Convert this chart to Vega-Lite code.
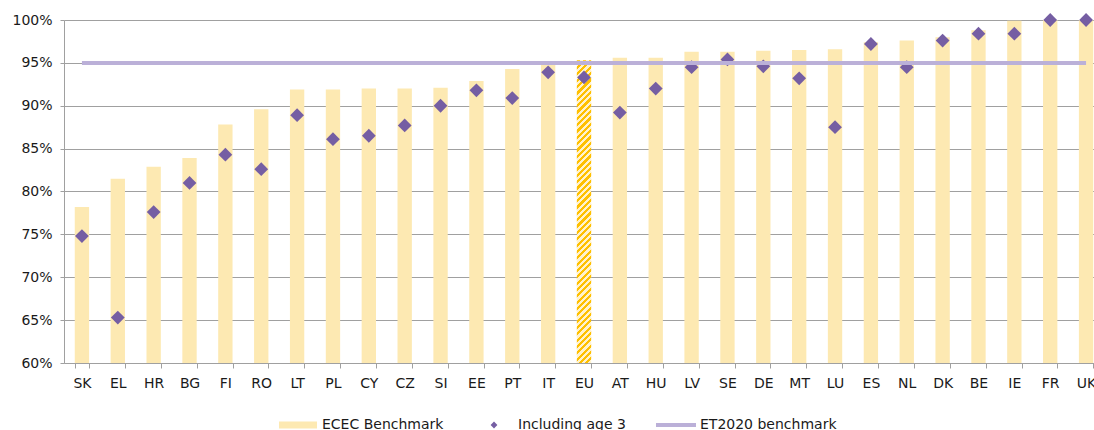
{
  "$schema": "https://vega.github.io/schema/vega-lite/v6.json",
  "width": 1030,
  "height": 343,
  "autosize": {"type": "none"},
  "padding": {"left": 64, "top": 20, "right": 0, "bottom": 67},
  "background": "white",
  "config": {
    "view": {"stroke": null},
    "font": "DejaVu Sans",
    "axis": {
      "labelFont": "DejaVu Sans",
      "labelFontSize": 14,
      "labelColor": "#1a1a1a",
      "domainColor": "#a0a0a0",
      "tickColor": "#a0a0a0",
      "gridColor": "#a0a0a0",
      "title": null
    }
  },
  "data": {
    "values": [
      {"country": "SK", "ecec": 0.782, "age3": 0.748},
      {"country": "EL", "ecec": 0.815, "age3": 0.653},
      {"country": "HR", "ecec": 0.829, "age3": 0.776},
      {"country": "BG", "ecec": 0.839, "age3": 0.810},
      {"country": "FI", "ecec": 0.878, "age3": 0.843},
      {"country": "RO", "ecec": 0.896, "age3": 0.826},
      {"country": "LT", "ecec": 0.919, "age3": 0.889},
      {"country": "PL", "ecec": 0.919, "age3": 0.861},
      {"country": "CY", "ecec": 0.920, "age3": 0.865},
      {"country": "CZ", "ecec": 0.920, "age3": 0.877},
      {"country": "SI", "ecec": 0.921, "age3": 0.900},
      {"country": "EE", "ecec": 0.929, "age3": 0.918},
      {"country": "PT", "ecec": 0.943, "age3": 0.909},
      {"country": "IT", "ecec": 0.949, "age3": 0.939},
      {"country": "EU", "ecec": 0.953, "age3": 0.933},
      {"country": "AT", "ecec": 0.956, "age3": 0.892},
      {"country": "HU", "ecec": 0.956, "age3": 0.920},
      {"country": "LV", "ecec": 0.963, "age3": 0.945},
      {"country": "SE", "ecec": 0.963, "age3": 0.954},
      {"country": "DE", "ecec": 0.964, "age3": 0.946},
      {"country": "MT", "ecec": 0.965, "age3": 0.932},
      {"country": "LU", "ecec": 0.966, "age3": 0.875},
      {"country": "ES", "ecec": 0.974, "age3": 0.972},
      {"country": "NL", "ecec": 0.976, "age3": 0.945},
      {"country": "DK", "ecec": 0.980, "age3": 0.976},
      {"country": "BE", "ecec": 0.988, "age3": 0.984},
      {"country": "IE", "ecec": 0.999, "age3": 0.984},
      {"country": "FR", "ecec": 1.000, "age3": 1.000},
      {"country": "UK", "ecec": 1.000, "age3": 1.000}
    ]
  },
  "layer": [
    {
      "transform": [{"filter": "datum.country !== 'EU'"}],
      "mark": {"type": "bar", "fill": "#fde9b2"},
      "encoding": {
        "x": {
          "field": "country", "type": "nominal",
          "scale": {
            "domain": ["SK","EL","HR","BG","FI","RO","LT","PL","CY","CZ","SI","EE","PT","IT","EU","AT","HU","LV","SE","DE","MT","LU","ES","NL","DK","BE","IE","FR","UK"],
            "range": [0, 1040], "paddingInner": 0.6, "paddingOuter": 0.3
          },
          "axis": {"labelAngle": 0, "grid": false, "tickBand": "extent", "tickSize": 5, "labelPadding": 8, "domain": true, "ticks": true}
        },
        "y": {
          "field": "ecec", "type": "quantitative",
          "scale": {"domain": [0.6, 1.0], "nice": false, "zero": false},
          "axis": {"values": [0.6,0.65,0.7,0.75,0.8,0.85,0.9,0.95,1.0], "format": ".0%", "grid": true, "tickSize": 4, "labelPadding": 8, "domain": true}
        },
        "y2": {"datum": 0.6},
        "color": {
          "datum": "ECEC Benchmark",
          "type": "nominal",
          "scale": {
            "domain": ["ECEC Benchmark", "Including age 3", "ET2020 benchmark"],
            "range": ["#fde9b2", "#755ea3", "#bbb0d8"]
          },
          "legend": {
            "title": null,
            "orient": "none",
            "legendX": 214,
            "legendY": 385,
            "direction": "horizontal",
            "padding": 0,
            "symbolSize": 1600,
            "labelFont": "DejaVu Sans",
            "labelFontSize": 14,
            "labelColor": "#1a1a1a",
            "labelOffset": 4,
            "columnPadding": 30,
            "labelLimit": 300,
            "encode": {
              "symbols": {
                "update": {
                  "shape": {"signal": "datum.value === 'ECEC Benchmark' ? 'M-0.95,-0.18H0.95V0.18H-0.95Z' : (datum.value === 'Including age 3' ? 'M-0.17,0L0,-0.17L0.17,0L0,0.17Z' : 'M-1,-0.1H1V0.1H-1Z')"},
                  "fill": {"signal": "scale('color', datum.value)"},
                  "stroke": {"value": "transparent"},
                  "strokeWidth": {"value": 0},
                  "opacity": {"value": 1},
                  "fillOpacity": {"value": 1}
                }
              }
            }
          }
        }
      }
    },
    {
      "transform": [{"filter": "datum.country === 'EU'"}],
      "mark": {
        "type": "bar",
        "fill": {
          "gradient": "linear",
          "x1": 0, "y1": 0, "x2": 0.0495, "y2": 1.045,
          "stops": [
            {"offset":0,"color":"#ffc000"},{"offset":0.01,"color":"#ffc000"},{"offset":0.01,"color":"#fff2cc"},{"offset":0.02,"color":"#fff2cc"},
            {"offset":0.02,"color":"#ffc000"},{"offset":0.03,"color":"#ffc000"},{"offset":0.03,"color":"#fff2cc"},{"offset":0.04,"color":"#fff2cc"},
            {"offset":0.04,"color":"#ffc000"},{"offset":0.05,"color":"#ffc000"},{"offset":0.05,"color":"#fff2cc"},{"offset":0.06,"color":"#fff2cc"},
            {"offset":0.06,"color":"#ffc000"},{"offset":0.07,"color":"#ffc000"},{"offset":0.07,"color":"#fff2cc"},{"offset":0.08,"color":"#fff2cc"},
            {"offset":0.08,"color":"#ffc000"},{"offset":0.09,"color":"#ffc000"},{"offset":0.09,"color":"#fff2cc"},{"offset":0.10,"color":"#fff2cc"},
            {"offset":0.10,"color":"#ffc000"},{"offset":0.11,"color":"#ffc000"},{"offset":0.11,"color":"#fff2cc"},{"offset":0.12,"color":"#fff2cc"},
            {"offset":0.12,"color":"#ffc000"},{"offset":0.13,"color":"#ffc000"},{"offset":0.13,"color":"#fff2cc"},{"offset":0.14,"color":"#fff2cc"},
            {"offset":0.14,"color":"#ffc000"},{"offset":0.15,"color":"#ffc000"},{"offset":0.15,"color":"#fff2cc"},{"offset":0.16,"color":"#fff2cc"},
            {"offset":0.16,"color":"#ffc000"},{"offset":0.17,"color":"#ffc000"},{"offset":0.17,"color":"#fff2cc"},{"offset":0.18,"color":"#fff2cc"},
            {"offset":0.18,"color":"#ffc000"},{"offset":0.19,"color":"#ffc000"},{"offset":0.19,"color":"#fff2cc"},{"offset":0.20,"color":"#fff2cc"},
            {"offset":0.20,"color":"#ffc000"},{"offset":0.21,"color":"#ffc000"},{"offset":0.21,"color":"#fff2cc"},{"offset":0.22,"color":"#fff2cc"},
            {"offset":0.22,"color":"#ffc000"},{"offset":0.23,"color":"#ffc000"},{"offset":0.23,"color":"#fff2cc"},{"offset":0.24,"color":"#fff2cc"},
            {"offset":0.24,"color":"#ffc000"},{"offset":0.25,"color":"#ffc000"},{"offset":0.25,"color":"#fff2cc"},{"offset":0.26,"color":"#fff2cc"},
            {"offset":0.26,"color":"#ffc000"},{"offset":0.27,"color":"#ffc000"},{"offset":0.27,"color":"#fff2cc"},{"offset":0.28,"color":"#fff2cc"},
            {"offset":0.28,"color":"#ffc000"},{"offset":0.29,"color":"#ffc000"},{"offset":0.29,"color":"#fff2cc"},{"offset":0.30,"color":"#fff2cc"},
            {"offset":0.30,"color":"#ffc000"},{"offset":0.31,"color":"#ffc000"},{"offset":0.31,"color":"#fff2cc"},{"offset":0.32,"color":"#fff2cc"},
            {"offset":0.32,"color":"#ffc000"},{"offset":0.33,"color":"#ffc000"},{"offset":0.33,"color":"#fff2cc"},{"offset":0.34,"color":"#fff2cc"},
            {"offset":0.34,"color":"#ffc000"},{"offset":0.35,"color":"#ffc000"},{"offset":0.35,"color":"#fff2cc"},{"offset":0.36,"color":"#fff2cc"},
            {"offset":0.36,"color":"#ffc000"},{"offset":0.37,"color":"#ffc000"},{"offset":0.37,"color":"#fff2cc"},{"offset":0.38,"color":"#fff2cc"},
            {"offset":0.38,"color":"#ffc000"},{"offset":0.39,"color":"#ffc000"},{"offset":0.39,"color":"#fff2cc"},{"offset":0.40,"color":"#fff2cc"},
            {"offset":0.40,"color":"#ffc000"},{"offset":0.41,"color":"#ffc000"},{"offset":0.41,"color":"#fff2cc"},{"offset":0.42,"color":"#fff2cc"},
            {"offset":0.42,"color":"#ffc000"},{"offset":0.43,"color":"#ffc000"},{"offset":0.43,"color":"#fff2cc"},{"offset":0.44,"color":"#fff2cc"},
            {"offset":0.44,"color":"#ffc000"},{"offset":0.45,"color":"#ffc000"},{"offset":0.45,"color":"#fff2cc"},{"offset":0.46,"color":"#fff2cc"},
            {"offset":0.46,"color":"#ffc000"},{"offset":0.47,"color":"#ffc000"},{"offset":0.47,"color":"#fff2cc"},{"offset":0.48,"color":"#fff2cc"},
            {"offset":0.48,"color":"#ffc000"},{"offset":0.49,"color":"#ffc000"},{"offset":0.49,"color":"#fff2cc"},{"offset":0.50,"color":"#fff2cc"},
            {"offset":0.50,"color":"#ffc000"},{"offset":0.51,"color":"#ffc000"},{"offset":0.51,"color":"#fff2cc"},{"offset":0.52,"color":"#fff2cc"},
            {"offset":0.52,"color":"#ffc000"},{"offset":0.53,"color":"#ffc000"},{"offset":0.53,"color":"#fff2cc"},{"offset":0.54,"color":"#fff2cc"},
            {"offset":0.54,"color":"#ffc000"},{"offset":0.55,"color":"#ffc000"},{"offset":0.55,"color":"#fff2cc"},{"offset":0.56,"color":"#fff2cc"},
            {"offset":0.56,"color":"#ffc000"},{"offset":0.57,"color":"#ffc000"},{"offset":0.57,"color":"#fff2cc"},{"offset":0.58,"color":"#fff2cc"},
            {"offset":0.58,"color":"#ffc000"},{"offset":0.59,"color":"#ffc000"},{"offset":0.59,"color":"#fff2cc"},{"offset":0.60,"color":"#fff2cc"},
            {"offset":0.60,"color":"#ffc000"},{"offset":0.61,"color":"#ffc000"},{"offset":0.61,"color":"#fff2cc"},{"offset":0.62,"color":"#fff2cc"},
            {"offset":0.62,"color":"#ffc000"},{"offset":0.63,"color":"#ffc000"},{"offset":0.63,"color":"#fff2cc"},{"offset":0.64,"color":"#fff2cc"},
            {"offset":0.64,"color":"#ffc000"},{"offset":0.65,"color":"#ffc000"},{"offset":0.65,"color":"#fff2cc"},{"offset":0.66,"color":"#fff2cc"},
            {"offset":0.66,"color":"#ffc000"},{"offset":0.67,"color":"#ffc000"},{"offset":0.67,"color":"#fff2cc"},{"offset":0.68,"color":"#fff2cc"},
            {"offset":0.68,"color":"#ffc000"},{"offset":0.69,"color":"#ffc000"},{"offset":0.69,"color":"#fff2cc"},{"offset":0.70,"color":"#fff2cc"},
            {"offset":0.70,"color":"#ffc000"},{"offset":0.71,"color":"#ffc000"},{"offset":0.71,"color":"#fff2cc"},{"offset":0.72,"color":"#fff2cc"},
            {"offset":0.72,"color":"#ffc000"},{"offset":0.73,"color":"#ffc000"},{"offset":0.73,"color":"#fff2cc"},{"offset":0.74,"color":"#fff2cc"},
            {"offset":0.74,"color":"#ffc000"},{"offset":0.75,"color":"#ffc000"},{"offset":0.75,"color":"#fff2cc"},{"offset":0.76,"color":"#fff2cc"},
            {"offset":0.76,"color":"#ffc000"},{"offset":0.77,"color":"#ffc000"},{"offset":0.77,"color":"#fff2cc"},{"offset":0.78,"color":"#fff2cc"},
            {"offset":0.78,"color":"#ffc000"},{"offset":0.79,"color":"#ffc000"},{"offset":0.79,"color":"#fff2cc"},{"offset":0.80,"color":"#fff2cc"},
            {"offset":0.80,"color":"#ffc000"},{"offset":0.81,"color":"#ffc000"},{"offset":0.81,"color":"#fff2cc"},{"offset":0.82,"color":"#fff2cc"},
            {"offset":0.82,"color":"#ffc000"},{"offset":0.83,"color":"#ffc000"},{"offset":0.83,"color":"#fff2cc"},{"offset":0.84,"color":"#fff2cc"},
            {"offset":0.84,"color":"#ffc000"},{"offset":0.85,"color":"#ffc000"},{"offset":0.85,"color":"#fff2cc"},{"offset":0.86,"color":"#fff2cc"},
            {"offset":0.86,"color":"#ffc000"},{"offset":0.87,"color":"#ffc000"},{"offset":0.87,"color":"#fff2cc"},{"offset":0.88,"color":"#fff2cc"},
            {"offset":0.88,"color":"#ffc000"},{"offset":0.89,"color":"#ffc000"},{"offset":0.89,"color":"#fff2cc"},{"offset":0.90,"color":"#fff2cc"},
            {"offset":0.90,"color":"#ffc000"},{"offset":0.91,"color":"#ffc000"},{"offset":0.91,"color":"#fff2cc"},{"offset":0.92,"color":"#fff2cc"},
            {"offset":0.92,"color":"#ffc000"},{"offset":0.93,"color":"#ffc000"},{"offset":0.93,"color":"#fff2cc"},{"offset":0.94,"color":"#fff2cc"},
            {"offset":0.94,"color":"#ffc000"},{"offset":0.95,"color":"#ffc000"},{"offset":0.95,"color":"#fff2cc"},{"offset":0.96,"color":"#fff2cc"},
            {"offset":0.96,"color":"#ffc000"},{"offset":0.97,"color":"#ffc000"},{"offset":0.97,"color":"#fff2cc"},{"offset":0.98,"color":"#fff2cc"},
            {"offset":0.98,"color":"#ffc000"},{"offset":0.99,"color":"#ffc000"},{"offset":0.99,"color":"#fff2cc"},{"offset":1,"color":"#fff2cc"}
          ]
        }
      },
      "encoding": {
        "x": {"field": "country", "type": "nominal"},
        "y": {"field": "ecec", "type": "quantitative"},
        "y2": {"datum": 0.6}
      }
    },
    {
      "mark": {"type": "point", "shape": "diamond", "filled": true, "size": 190, "opacity": 1},
      "encoding": {
        "x": {"field": "country", "type": "nominal"},
        "y": {"field": "age3", "type": "quantitative"},
        "color": {"datum": "Including age 3", "type": "nominal"}
      }
    },
    {
      "data": {"values": [{"start": "SK", "end": "UK", "benchmark": 0.95}]},
      "mark": {"type": "rule", "strokeWidth": 4, "strokeCap": "butt"},
      "encoding": {
        "x": {"field": "start", "type": "nominal"},
        "x2": {"field": "end"},
        "y": {"field": "benchmark", "type": "quantitative"},
        "color": {"datum": "ET2020 benchmark", "type": "nominal"}
      }
    }
  ]
}
